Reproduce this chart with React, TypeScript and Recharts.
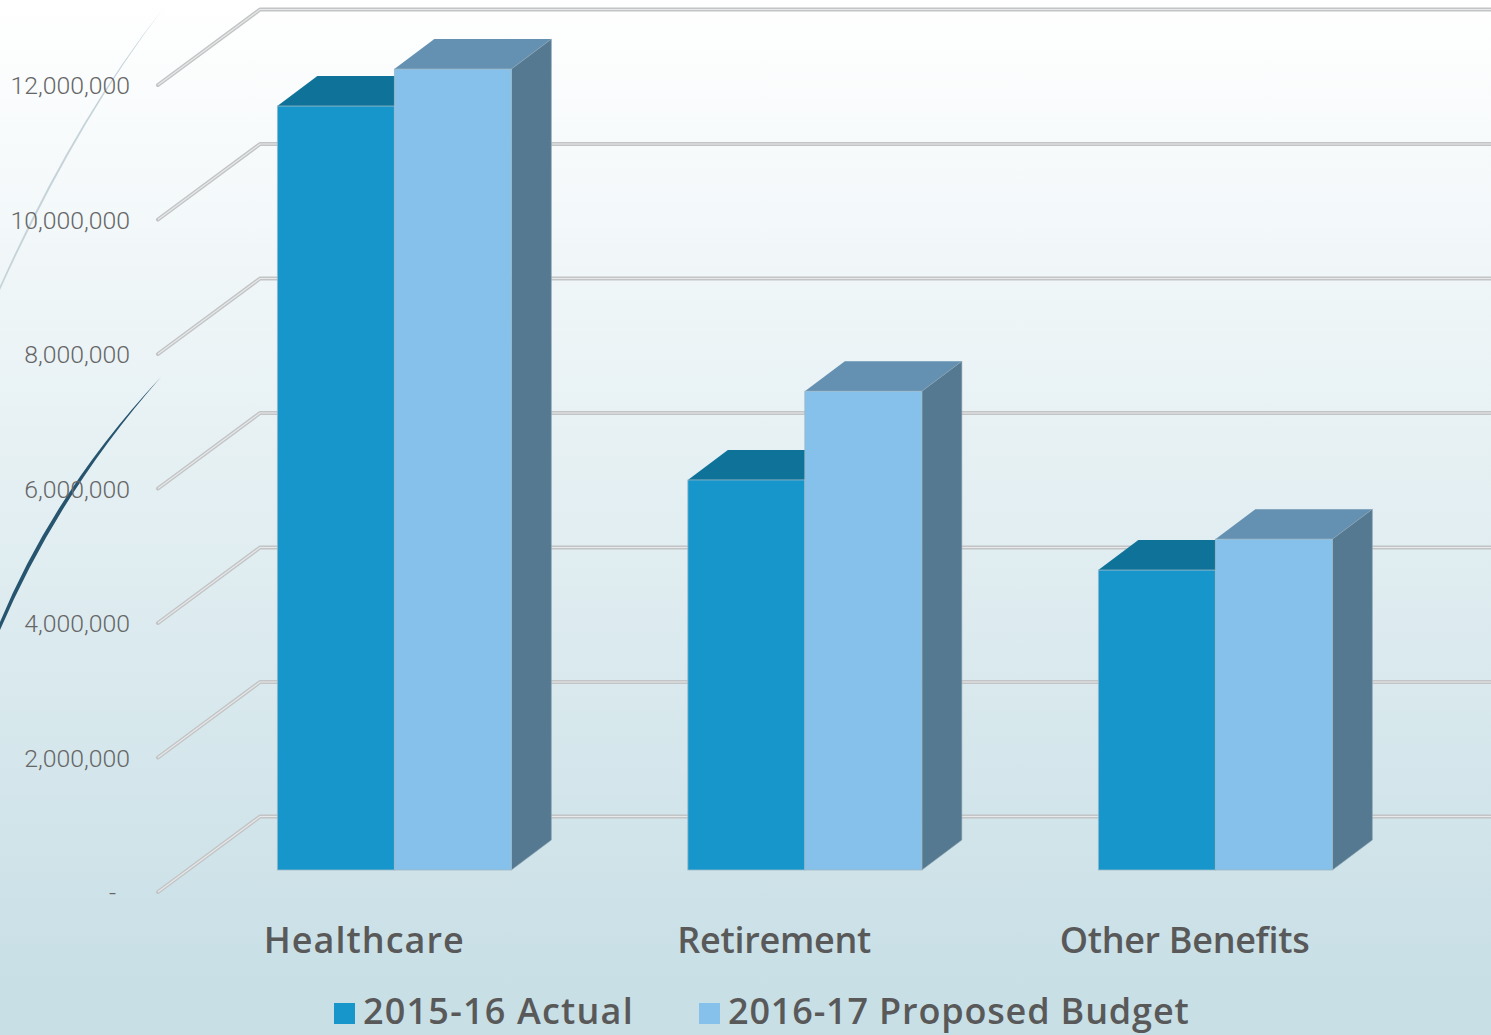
import { BarChart, Bar, XAxis, YAxis, CartesianGrid, Legend } from 'recharts';

const CATEGORIES = ['Healthcare', 'Retirement', 'Other Benefits'];
const ACTUAL_2015 = [11360000, 5800000, 4460000];
const BUDGET_2016 = [11910000, 7120000, 4920000];
const Y_TICKS = [0, 2000000, 4000000, 6000000, 8000000, 10000000, 12000000];

const chartData = CATEGORIES.map((name, i) => ({
  name,
  actual: ACTUAL_2015[i],
  budget: BUDGET_2016[i],
}));

// Fake 3D depth of the bars and the floor/wall offsets of the grid
const DEPTH_X = 40;
const DEPTH_Y = 30;
const WALL_OFFSET = 53.5;
const FLOOR_OFFSET = 22;
const GRID_LEFT = 158;
const WALL_LEFT = 260;
const WIDTH = 1491;
const HEIGHT = 1035;

const TEXT_COLOR = '#595959';
const LABEL_FONT = '"Open Sans", sans-serif';

// Text widths measured on the reference, the font is not an exact match
const CATEGORY_WIDTHS = [200, 194, 250];
const LEGEND_SPACING = [1.2, 0.83];

const ACTUAL_COLORS = { front: '#1696cb', top: '#0f7399', side: '#0f7399' };
const BUDGET_COLORS = { front: '#85c1ea', top: '#6490b1', side: '#547990' };

function Bar3D(props: any) {
  const { x, y, width, height, colors } = props;
  const right = x + width;
  const bottom = y + height;
  return (
    <g>
      <polygon
        points={`${x},${y} ${x + DEPTH_X},${y - DEPTH_Y} ${right + DEPTH_X},${y - DEPTH_Y} ${right},${y}`}
        fill={colors.top}
      />
      <polygon
        points={`${right},${y} ${right + DEPTH_X},${y - DEPTH_Y} ${right + DEPTH_X},${bottom - DEPTH_Y} ${right},${bottom}`}
        fill={colors.side}
        stroke="#8fa6b5"
        strokeWidth={0.6}
      />
      <rect x={x} y={y} width={width} height={height} fill={colors.front} stroke="#9db8c6" strokeWidth={0.8} />
    </g>
  );
}

function GridLine(props: any) {
  const y = props.y1;
  const pts = `${GRID_LEFT},${y + FLOOR_OFFSET} ${WALL_LEFT},${y - WALL_OFFSET} ${WIDTH},${y - WALL_OFFSET}`;
  return (
    <g key={props.key}>
      <polyline points={pts} fill="none" stroke="#c2c4c5" strokeWidth={4} strokeLinejoin="round" strokeLinecap="round" />
      <polyline points={pts} fill="none" stroke="#e6e8e9" strokeWidth={1.2} />
    </g>
  );
}

function ValueTick(props: any) {
  const { y, payload } = props;
  const zero = payload.value === 0;
  return (
    <text
      x={zero ? 116 : 130}
      y={y + FLOOR_OFFSET}
      dy={9}
      textAnchor="end"
      fill="#666666"
      fontSize={24.8}
      fontWeight={300}
      fontFamily="Roboto, sans-serif"
    >
      {zero ? '-' : payload.value.toLocaleString('en-US')}
    </text>
  );
}

function CategoryTick(props: any) {
  const { x, payload, index } = props;
  return (
    <text
      x={x - 31}
      y={953}
      textAnchor="middle"
      fill={TEXT_COLOR}
      fontSize={36}
      fontWeight={600}
      fontFamily={LABEL_FONT}
      textLength={CATEGORY_WIDTHS[index]}
      lengthAdjust="spacing"
    >
      {payload.value}
    </text>
  );
}

function LegendContent(props: any) {
  const starts = [334, 699];
  return (
    <div style={{ position: 'relative', width: WIDTH, height: 45 }}>
      {(props.payload || []).map((item: any, i: number) => (
        <div key={item.value}>
          <div
            style={{
              position: 'absolute',
              left: starts[i],
              top: 13,
              width: 21,
              height: 21,
              background: item.color,
            }}
          />
          <div
            style={{
              position: 'absolute',
              left: starts[i] + 29,
              top: -2,
              lineHeight: '46px',
              fontSize: 36,
              fontWeight: 600,
              fontFamily: LABEL_FONT,
              letterSpacing: LEGEND_SPACING[i],
              color: TEXT_COLOR,
              whiteSpace: 'nowrap',
            }}
          >
            {item.value}
          </div>
        </div>
      ))}
    </div>
  );
}

export default function App() {
  return (
    <div
      style={{
        position: 'absolute',
        left: 0,
        top: 0,
        width: WIDTH,
        height: HEIGHT,
        overflow: 'hidden',
        background: 'linear-gradient(180deg, #ffffff 0%, #c8dfe6 96%)',
      }}
    >
      {/* Decorative swooshes from the slide background */}
      <svg width={WIDTH} height={HEIGHT} style={{ position: 'absolute', left: 0, top: 0 }}>
        <path d="M162,10 Q75,125 0,290 L0,286 Q73,123 162,10 Z" fill="#c6d4da" />
        <path d="M161,377 Q55,490 0,622 L0,630 Q59,493 161,377 Z" fill="#27556f" />
      </svg>

      <div style={{ position: 'absolute', left: 0, top: 0 }}>
        <BarChart
          width={WIDTH}
          height={HEIGHT}
          data={chartData}
          margin={{ top: 63, right: 70, bottom: 0, left: 0 }}
          barCategoryGap="21.4%"
          barGap={0}
        >
          <CartesianGrid vertical={false} horizontal={(p: any) => <GridLine {...p} />} />
          <XAxis dataKey="name" height={165} axisLine={false} tickLine={false} interval={0} tick={<CategoryTick />} />
          <YAxis
            width={189.5}
            domain={[0, 12000000]}
            ticks={Y_TICKS}
            axisLine={false}
            tickLine={false}
            interval={0}
            tick={<ValueTick />}
          />
          <Legend
            layout="horizontal"
            verticalAlign="middle"
            wrapperStyle={{ position: 'absolute', left: 0, top: 990, width: WIDTH, height: 45 }}
            content={<LegendContent />}
          />
          <Bar
            dataKey="actual"
            name="2015-16 Actual"
            fill={ACTUAL_COLORS.front}
            isAnimationActive={false}
            shape={<Bar3D colors={ACTUAL_COLORS} />}
          />
          <Bar
            dataKey="budget"
            name="2016-17 Proposed Budget"
            fill={BUDGET_COLORS.front}
            isAnimationActive={false}
            shape={<Bar3D colors={BUDGET_COLORS} />}
          />
        </BarChart>
      </div>
    </div>
  );
}
